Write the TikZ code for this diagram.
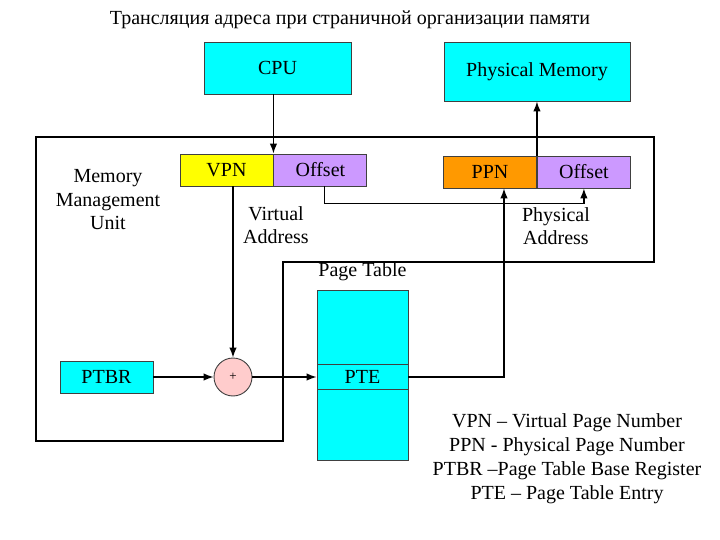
\documentclass[tikz,border=0pt]{standalone}
\usepackage{fontspec}
\setmainfont{Liberation Serif}
\usetikzlibrary{arrows.meta, positioning, calc}
\definecolor{BoxCyan}{rgb}{0, 1, 1}
\definecolor{BoxYellow}{rgb}{1, 1, 0}
\definecolor{BoxOrange}{rgb}{1, 0.6, 0}
\definecolor{BoxLilac}{rgb}{0.8, 0.6, 1}
\definecolor{AdderPink}{rgb}{1, 0.8, 0.8}
\definecolor{EdgeGray}{rgb}{0.25, 0.25, 0.25}

\begin{document}
\begin{tikzpicture}[
    x=1pt, y=-1pt,
    font=\fontsize{20}{23.5}\selectfont,
    flow/.style={-{Latex[length=10pt, width=7.5pt]}, line width=1.4pt},
    wire/.style={line width=1.4pt},
    field/.style={draw=EdgeGray, line width=0.9pt, inner sep=0pt,
        minimum width=93pt, minimum height=32pt},
    unit/.style={field, fill=BoxCyan},
    label/.style={align=center, inner sep=0pt},
]
\useasboundingbox (0,0) rectangle (720,540);

% --- title ---
\node[label] (title) at (350,20) {Трансляция адреса при страничной организации памяти};

% --- CPU and memory ---
\node[unit, minimum width=147pt, minimum height=52pt] (cpu) at (277.5,68) {CPU};
\node[unit, minimum width=186pt, minimum height=59pt] (pmem) at (537,71.5) {Physical Memory};

% --- memory management unit outline ---
\draw[wire] (36,137) -- (654,137) -- (654,262) -- (283,262) -- (283,441) -- (36,441) -- cycle;
\node[label] (mmu) at (108,200) {Memory\\Management\\Unit};

% --- virtual address ---
\node[field, fill=BoxYellow] (vpn) at (226.5,170) {VPN};
\node[field, fill=BoxLilac, right=0pt of vpn] (voff) {Offset};
\node[label] (vlab) at (276,225) {Virtual\\Address};

% --- physical address ---
\node[field, fill=BoxOrange] (ppn) at (490,172) {PPN};
\node[field, fill=BoxLilac, right=0pt of ppn] (poff) {Offset};
\node[label] (plab) at (556,226) {Physical\\Address};

% --- page table ---
\node[unit, minimum width=91pt, minimum height=170pt] (ptab) at (362.5,375) {};
\node[label, above=9pt of ptab] (ptlab) {Page Table};
\node[field, minimum width=91pt, minimum height=25pt] (pte) at (362.5,377) {PTE};

% --- base register and adder ---
\node[unit] (ptbr) at (106.5,377) {PTBR};
\node[circle, draw=EdgeGray, line width=0.9pt, fill=AdderPink, minimum size=38pt,
      inner sep=0pt, font=\fontsize{13}{15}\selectfont] (plus) at (233,377) {+};

% --- connectors ---
\draw[flow] (vpn.north east |- cpu.south) -- (vpn.north east);
\draw[flow] (ppn.north east) -- (ppn.north east |- pmem.south);
\draw[flow] ($(voff.south)+(4,0)$) -- ++(0,17) -| (poff.south);
\draw[flow] (plus.north |- vpn.south) -- (plus.north);
\draw[flow] (ptbr) -- (plus);
\draw[flow] (plus) -- (pte.west);
\draw[flow] (pte.east) -| ($(ppn.south)+(14,0)$);

% --- legend ---
\node[label, font=\fontsize{20}{24}\selectfont] (legend) at (567,459)
    {VPN – Virtual Page Number\\PPN - Physical Page Number\\PTBR –Page Table Base Register\\PTE – Page Table Entry};

\end{tikzpicture}
\end{document}
